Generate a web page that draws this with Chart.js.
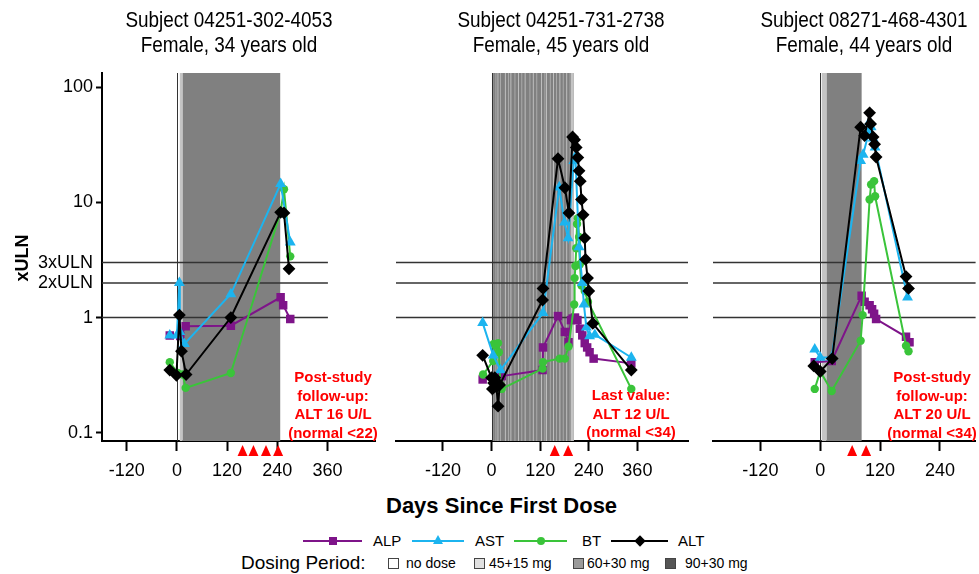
<!DOCTYPE html>
<html>
<head>
<meta charset="utf-8">
<script src="https://cdn.jsdelivr.net/npm/chart.js@4.4.0/dist/chart.umd.min.js"></script>
<style>
  body { margin: 0; background: #fff; font-family: "Liberation Sans", Arial, sans-serif; }
  #wrap { position: relative; width: 979px; height: 574px; overflow: hidden; }
  canvas { position: absolute; top: 0; }
  .t { position: absolute; white-space: nowrap; color: #000; }
  .title { font-size: 22px; text-align: center; line-height: 25px; width: 300px; top: 7px;
           transform: scaleX(0.86); transform-origin: 150px 0; }
  .note { color: #ff0000; font-weight: bold; font-size: 15px; line-height: 18.5px;
          text-align: center; width: 130px; }
  .lg { font-size: 15px; line-height: 18px; }
  .lg2 { font-size: 14px; line-height: 16px; }
  .ln { position: absolute; height: 2px; }
  .box { position: absolute; width: 9px; height: 9px; border: 1px solid #444; }
</style>
</head>
<body>
<div id="wrap">
  <canvas id="c1" width="382" height="486" style="left:0px"></canvas>
  <canvas id="c2" width="318" height="486" style="left:382px"></canvas>
  <canvas id="c3" width="282" height="486" style="left:700px"></canvas>

  <div class="t title" style="left:79px">Subject 04251-302-4053<br>Female, 34 years old</div>
  <div class="t title" style="left:411px">Subject 04251-731-2738<br>Female, 45 years old</div>
  <div class="t title" style="left:714px">Subject 08271-468-4301<br>Female, 44 years old</div>

  <div class="t note" style="left:268px; top:368px">Post-study<br>follow-up:<br>ALT 16 U/L<br>(normal &lt;22)</div>
  <div class="t note" style="left:566px; top:386px">Last value:<br>ALT 12 U/L<br>(normal &lt;34)</div>
  <div class="t note" style="left:867px; top:368px">Post-study<br>follow-up:<br>ALT 20 U/L<br>(normal &lt;34)</div>

  <div class="t" style="left:-8px; top:247px; width:60px; height:22px; line-height:22px; text-align:center; font-weight:bold; font-size:18px; transform:rotate(-90deg)">xULN</div>
  <div class="t" style="left:386px; top:493px; font-weight:bold; font-size:22px">Days Since First Dose</div>

  <div id="legend"></div>
</div>

<script>
// ---- data (day since first dose, xULN) ----
const xTicks = [-120, 0, 120, 240, 360];
const yTicks = [0.1, 1, 2, 3, 10, 100];
const yTickLabels = ["0.1", "1", "2xULN", "3xULN", "10", "100"];
const refLevels = [1, 2, 3];

// subject 04251-302-4053
const p1ALP = [[-17, 0.70], [8, 0.69], [21, 0.84], [129, 0.85], [248, 1.5], [254, 1.28], [271, 0.97]];
const p1AST = [[-17, 0.70], [0, 0.70], [6, 2.0], [7, 0.75], [18, 0.59], [129, 1.6], [248, 14.5], [271, 4.5]];
const p1BT  = [[-17, 0.41], [2, 0.33], [14, 0.32], [21, 0.245], [129, 0.33], [248, 8.3], [256, 13], [271, 3.4]];
const p1ALT = [[-17, 0.35], [-1, 0.315], [6, 1.05], [11, 0.51], [22, 0.32], [129, 1.0], [248, 8.2], [256, 8.1], [268, 2.65]];

// subject 04251-731-2738
const p2ALP = [[-22, 0.29], [25, 0.31], [126, 0.35], [127, 0.55], [164, 1.03], [181, 0.75], [190, 0.61], [196, 0.95],
               [200, 0.98], [206, 1.0], [212, 0.95], [218, 0.80], [224, 0.70], [230, 0.60], [236, 0.55], [242, 0.50],
               [252, 0.44], [345, 0.40]];
const p2AST = [[-22, 0.9], [4, 0.47], [22, 0.35], [127, 1.1], [167, 13.5], [180, 6.7], [189, 4.9], [203, 23], [207, 25],
               [216, 4.1], [224, 2.0], [228, 1.3], [234, 0.82], [242, 0.69], [255, 0.71], [345, 0.45]];
const p2BT  = [[-21, 0.32], [4, 0.42], [5, 0.59], [10, 0.57], [16, 0.6], [18, 0.5], [22, 0.26], [25, 0.24], [126, 0.36],
               [127, 0.41], [168, 0.44], [181, 0.44], [190, 0.56], [204, 1.3], [205, 2.2], [207, 2.8], [209, 4.0],
               [211, 6.5], [213, 7.3], [216, 5.0], [218, 2.9], [222, 1.9], [230, 1.7], [238, 1.37], [345, 0.24]];
const p2ALT = [[-22, 0.47], [0, 0.3], [2, 0.24], [5, 0.27], [8, 0.3], [12, 0.25], [16, 0.17], [20, 0.26], [126, 1.42],
               [127, 1.79], [164, 24], [181, 13.4], [191, 8.1], [200, 37], [205, 35], [209, 30], [213, 24.5],
               [216, 18.8], [219, 15.3], [222, 10.6], [226, 7.8], [230, 4.9], [232, 3.2], [237, 2.2], [240, 1.7],
               [250, 0.89], [345, 0.35]];

// subject 08271-468-4301
const p3ALP = [[-11, 0.41], [23, 0.42], [83, 1.55], [89, 1.37], [99, 1.28], [104, 1.18], [108, 1.08], [112, 0.97],
               [172, 0.68], [179, 0.61]];
const p3AST = [[-11, 0.53], [0, 0.45], [23, 0.45], [81, 23], [86, 26], [97, 40], [99, 50], [102, 45], [106, 36],
               [110, 30], [175, 1.5]];
const p3BT  = [[-11, 0.24], [0, 0.34], [23, 0.23], [81, 0.63], [85, 1.05], [99, 10.6], [102, 14.3], [108, 15.3],
               [110, 11.3], [172, 0.57], [177, 0.51]];
const p3ALT = [[-13, 0.38], [0, 0.34], [24, 0.44], [81, 45], [89, 38], [99, 60], [101, 48], [106, 37], [109, 32],
               [112, 24.8], [172, 2.27], [177, 1.79]];

// dosing periods: [startDay, endDay, level]  0=no dose 1=45+15 2=60+30 3=90+30
const p1Dose = [[7, 14, 1], [14, 247, 2]];
const p2Dose = [[1, 203, 2], [1, 4, 1], [10, 11.5, 1], [15, 16.5, 0], [21, 22.5, 1], [33, 34.5, 0], [41, 42.5, 1],
                [47, 48.5, 0], [57, 58.5, 1], [66, 67.5, 0], [74, 75.5, 1], [82, 83.5, 0], [94, 95.5, 1],
                [102, 103.5, 0], [111, 112.5, 1], [123, 124.5, 0], [131, 132.5, 1], [135, 136.5, 0],
                [144, 145.5, 1], [152, 153.5, 0], [160, 161.5, 1], [168, 169.5, 0], [176, 177.5, 1],
                [185, 186.5, 0], [193, 194.5, 1], [196, 203, 1]];
const p3Dose = [[3, 13, 1], [13, 83, 2]];

// red triangles under the axis
const p1Marks = [157, 183, 213, 242];
const p2Marks = [156, 189];
const p3Marks = [64, 92];

const doseLabels = ["no dose", "45+15 mg", "60+30 mg", "90+30 mg"];
const doseColors = ["#e6e6e6", "#c4c4c4", "#808080", "#555555"];
const legendBoxColors = ["#ffffff", "#e0e0e0", "#9a9a9a", "#555555"];

const seriesNames = ["ALP", "AST", "BT", "ALT"];
const seriesColors = { ALP: "#7e1489", AST: "#1cb4ef", BT: "#3ac43a", ALT: "#000000" };
const seriesShapes = { ALP: "rect", AST: "triangle", BT: "circle", ALT: "rectRot" };
const seriesRadius = { ALP: 6, AST: 6.3, BT: 4.2, ALT: 6.4 };

const FONT = "'Liberation Sans', Arial, sans-serif";

function decor(doses, refEnd, marks) {
  return {
    id: "decor",
    beforeDatasetsDraw(chart) {
      const { ctx, chartArea: a, scales: { x, y } } = chart;
      ctx.save();
      doses.forEach(([s, e, lvl]) => {
        const x0 = x.getPixelForValue(s), x1 = x.getPixelForValue(e);
        ctx.fillStyle = doseColors[lvl];
        ctx.fillRect(x0, a.top, x1 - x0, a.bottom - a.top);
      });
      // day 0 line
      const z = Math.round(x.getPixelForValue(0)) + 0.5;
      ctx.strokeStyle = "#333";
      ctx.lineWidth = 1;
      ctx.beginPath(); ctx.moveTo(z, a.top); ctx.lineTo(z, a.bottom); ctx.stroke();
      // xULN lines
      const xr = refEnd == null ? a.right : x.getPixelForValue(refEnd);
      ctx.strokeStyle = "#333";
      ctx.lineWidth = 1.5;
      refLevels.forEach(v => {
        const py = y.getPixelForValue(v);
        ctx.beginPath(); ctx.moveTo(a.left, py); ctx.lineTo(xr, py); ctx.stroke();
      });
      ctx.restore();
    },
    afterDraw(chart) {
      const { ctx, chartArea: a, scales: { x } } = chart;
      ctx.save();
      ctx.fillStyle = "#ff0000";
      marks.forEach(d => {
        const px = x.getPixelForValue(d);
        ctx.beginPath();
        ctx.moveTo(px, a.bottom + 4);
        ctx.lineTo(px - 5, a.bottom + 15);
        ctx.lineTo(px + 5, a.bottom + 15);
        ctx.closePath();
        ctx.fill();
      });
      ctx.restore();
    },
  };
}

function makeDataset(name, rows) {
  return {
    label: name,
    data: rows.map(([d, v]) => ({ x: d, y: v })),
    borderColor: seriesColors[name],
    backgroundColor: seriesColors[name],
    borderWidth: 2,
    pointStyle: seriesShapes[name],
    pointRadius: seriesRadius[name],
    pointBorderWidth: 0,
    tension: 0,
  };
}

function makeChart(id, p) {
  new Chart(document.getElementById(id), {
    type: "line",
    data: {
      datasets: [
        makeDataset("ALT", p.alt),
        makeDataset("AST", p.ast),
        makeDataset("BT", p.bt),
        makeDataset("ALP", p.alp),
      ],
    },
    options: {
      responsive: false,
      animation: false,
      devicePixelRatio: 1,
      layout: { padding: { top: 73, left: p.padL, right: p.padR, bottom: 0 } },
      plugins: { legend: { display: false }, tooltip: { enabled: false } },
      scales: {
        x: {
          type: "linear",
          min: p.xmin, max: p.xmax,
          afterBuildTicks: s => { s.ticks = xTicks.filter(v => v <= p.xLast).map(v => ({ value: v })); },
          afterFit: s => { s.height = 45; },
          grid: { drawOnChartArea: false, drawTicks: true, tickLength: 10, tickWidth: 2, tickColor: "#000" },
          border: { display: true, color: "#000", width: 2 },
          ticks: { autoSkip: false, maxRotation: 0, padding: 9, color: "#000", font: { family: FONT, size: 18 } },
        },
        y: {
          type: "logarithmic",
          display: p.showY,
          min: 0.0847, max: 133,
          afterBuildTicks: s => { s.ticks = yTicks.map(v => ({ value: v })); },
          afterFit: s => { s.width = p.showY ? 102 : 0; },
          grid: {
            drawOnChartArea: false, drawTicks: true, tickLength: 6, tickWidth: 2,
            tickColor: c => (c.tick && (c.tick.value === 2 || c.tick.value === 3)) ? "rgba(0,0,0,0)" : "#000",
          },
          border: { display: true, color: "#000", width: 2 },
          ticks: {
            autoSkip: false, padding: 3, color: "#000", font: { family: FONT, size: 18 },
            callback: v => yTickLabels[yTicks.indexOf(v)],
          },
        },
      },
    },
    plugins: [decor(p.dose, p.refEnd, p.marks)],
  });
}

makeChart("c1", { alp: p1ALP, ast: p1AST, bt: p1BT, alt: p1ALT, dose: p1Dose, marks: p1Marks,
  xmin: -179, xmax: 475, xLast: 360, refEnd: 361, showY: true, padL: 0, padR: 5 });
makeChart("c2", { alp: p2ALP, ast: p2AST, bt: p2BT, alt: p2ALT, dose: p2Dose, marks: p2Marks,
  xmin: -236, xmax: 485, xLast: 360, refEnd: null, showY: false, padL: 14, padR: 12 });
makeChart("c3", { alp: p3ALP, ast: p3AST, bt: p3BT, alt: p3ALT, dose: p3Dose, marks: p3Marks,
  xmin: -215, xmax: 311.5, xLast: 240, refEnd: null, showY: false, padL: 13, padR: 3 });

// legend (html)
const lg = document.getElementById("legend");
const lineX = [[303, 362, 373], [412, 464, 475], [514, 567, 582], [611, 668, 678]];
seriesNames.forEach((n, i) => {
  const [x0, x1, tx] = lineX[i];
  const col = seriesColors[n];
  let html = `<div class="ln" style="left:${x0}px; top:540px; width:${x1 - x0}px; background:${col}"></div>`;
  const cx = (x0 + x1) / 2, cy = 541;
  if (n === "ALP") html += `<div style="position:absolute; left:${cx - 4}px; top:${cy - 4}px; width:8px; height:8px; background:${col}"></div>`;
  if (n === "AST") html += `<div style="position:absolute; left:${cx - 5}px; top:${cy - 6}px; width:0; height:0; border-left:5px solid transparent; border-right:5px solid transparent; border-bottom:9px solid ${col}"></div>`;
  if (n === "BT") html += `<div style="position:absolute; left:${cx - 4}px; top:${cy - 4}px; width:8px; height:8px; border-radius:50%; background:${col}"></div>`;
  if (n === "ALT") html += `<div style="position:absolute; left:${cx - 4}px; top:${cy - 4}px; width:8px; height:8px; transform:rotate(45deg); background:${col}"></div>`;
  html += `<div class="t lg" style="left:${tx}px; top:${cy - 9}px">${n}</div>`;
  lg.insertAdjacentHTML("beforeend", html);
});
lg.insertAdjacentHTML("beforeend", `<div class="t" style="left:241px; top:552px; font-size:19px">Dosing Period:</div>`);
const boxX = [[388, 406], [474, 489], [573, 587], [665, 685]];
doseLabels.forEach((d, i) => {
  const [bx, tx] = boxX[i];
  lg.insertAdjacentHTML("beforeend",
    `<div class="box" style="left:${bx}px; top:558px; background:${legendBoxColors[i]}"></div>` +
    `<div class="t lg2" style="left:${tx}px; top:555px">${d}</div>`);
});
</script>
</body>
</html>
